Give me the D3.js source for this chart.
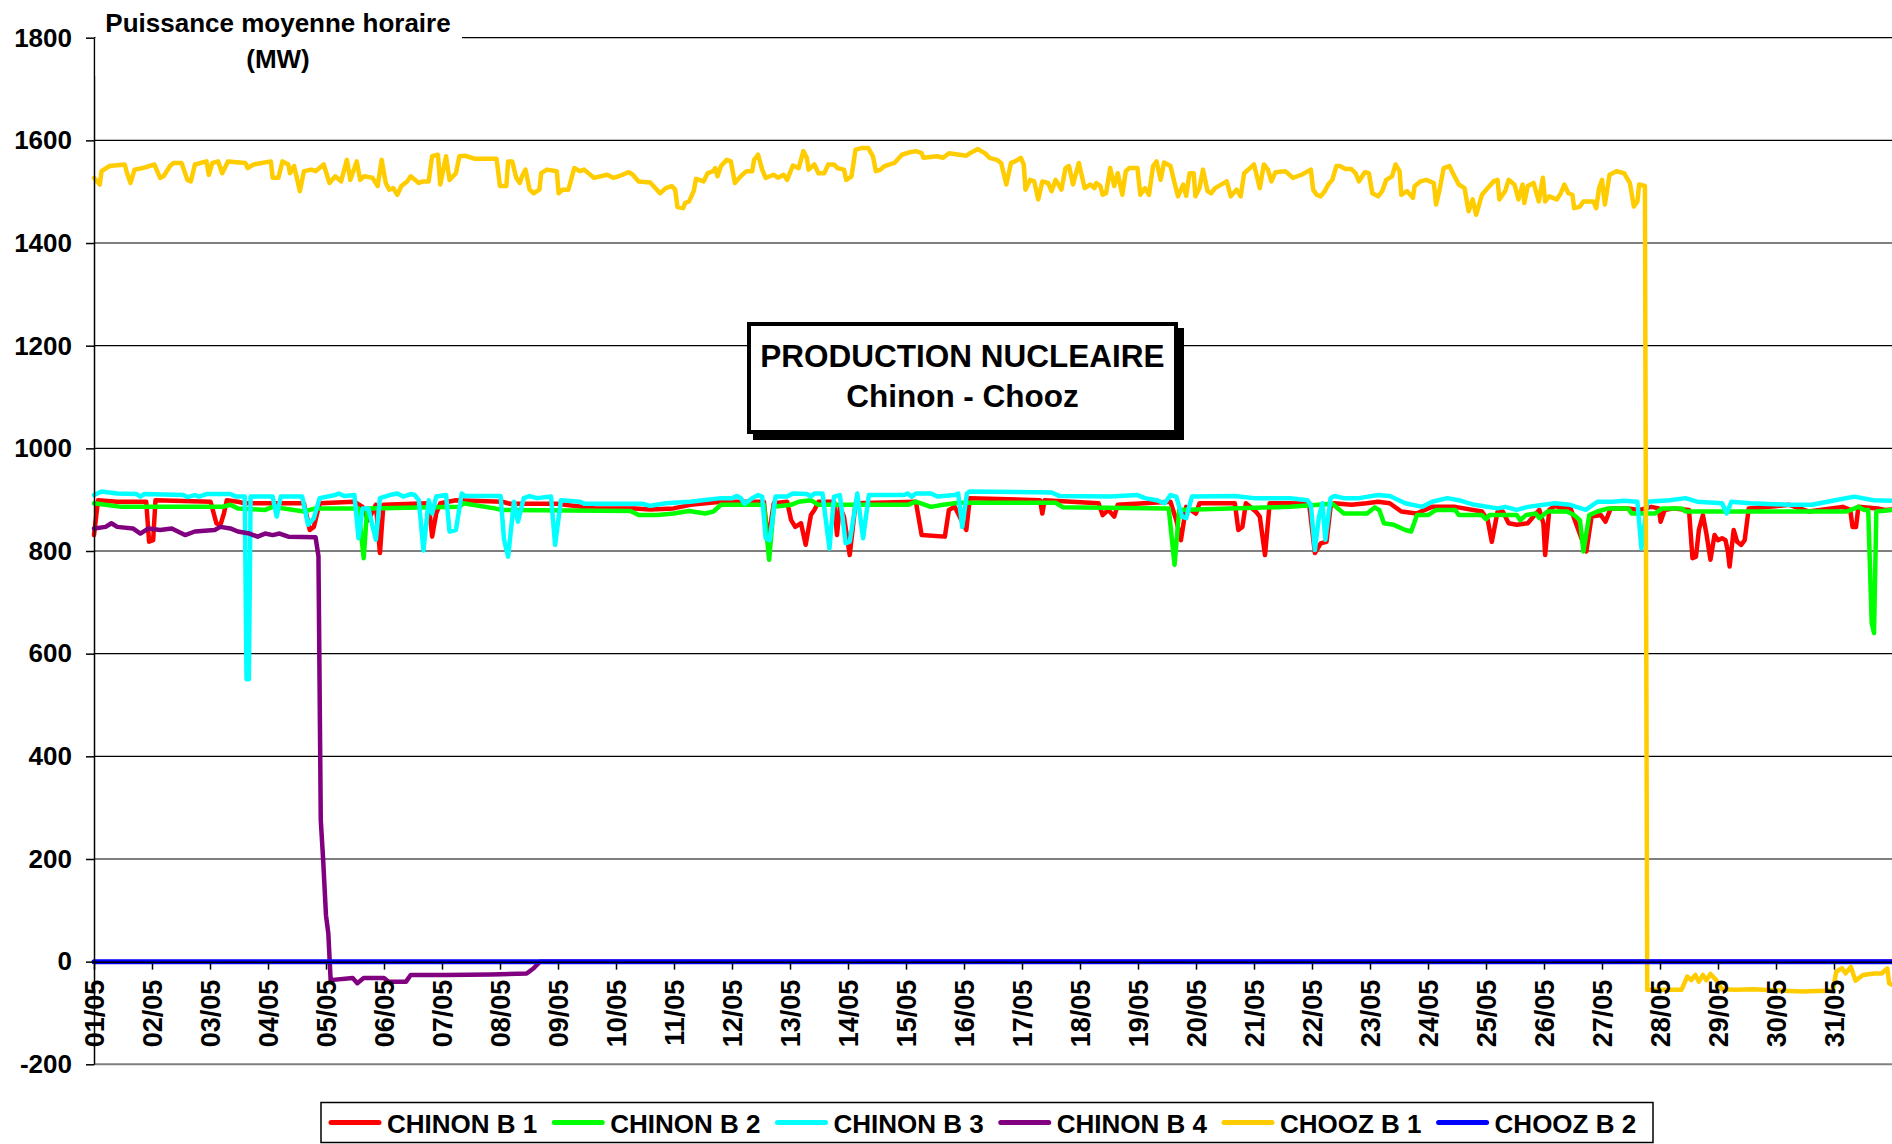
<!DOCTYPE html>
<html lang="fr">
<head>
<meta charset="utf-8">
<title>Production nucléaire Chinon - Chooz</title>
<script src="https://cdn.jsdelivr.net/npm/d3@7"></script>
<style>
  body { margin: 0; background: #fff; }
  svg { display: block; font-family: "Liberation Sans", Arial, sans-serif; font-weight: bold; }
</style>
</head>
<body>
<div id="chart"></div>
<script>
// Days of May 2005, one label per tick (tick i = start of day i+1)
const dayLabels = [
  "01/05", "02/05", "03/05", "04/05", "05/05", "06/05", "07/05", "08/05",
  "09/05", "10/05", "11/05", "12/05", "13/05", "14/05", "15/05", "16/05",
  "17/05", "18/05", "19/05", "20/05", "21/05", "22/05", "23/05", "24/05",
  "25/05", "26/05", "27/05", "28/05", "29/05", "30/05", "31/05",
];
const yTicks = [-200, 0, 200, 400, 600, 800, 1000, 1200, 1400, 1600, 1800];

// Hourly mean power as [day offset from 01/05 00:00, MW]
const chinonB1 = [
  [0,831],[0.07,899],[0.4,896],[0.9,896],[0.95,818],[1.02,821],[1.06,899],[2.01,896],[2.11,854],[2.18,851],
  [2.24,873],[2.29,899],[2.48,896],[2.6,893],[3.62,893],[3.72,841],[3.79,847],[3.89,893],[4.49,896],[4.63,886],
  [4.73,860],[4.86,890],[4.93,796],[4.99,890],[5.77,893],[5.83,828],[5.9,873],[5.97,893],[6.24,899],[7.04,896],
  [7.17,892],[7.98,892],[8.65,883],[9.32,883],[9.59,881],[9.99,883],[10.2,888],[10.28,890],[10.81,896],[11.55,896],
  [11.62,818],[11.72,893],[11.95,896],[12.02,860],[12.09,847],[12.19,854],[12.27,812],[12.36,870],[12.42,880],[12.49,896],
  [12.76,896],[12.81,831],[12.86,886],[12.93,867],[13.03,792],[13.13,893],[14.17,896],[14.27,831],[14.67,828],[14.74,880],
  [14.84,886],[15.04,841],[15.1,903],[16.31,899],[16.35,873],[16.39,899],[17.32,893],[17.39,870],[17.49,880],[17.59,867],
  [17.65,890],[18.56,896],[18.66,860],[18.74,821],[18.83,886],[19.0,873],[19.06,893],[19.67,893],[19.73,841],[19.8,847],
  [19.86,893],[20.03,877],[20.1,867],[20.19,792],[20.27,893],[20.62,893],[20.95,892],[21.05,796],[21.15,815],[21.25,818],
  [21.32,886],[21.38,893],[21.68,890],[21.94,893],[22.14,896],[22.34,893],[22.54,877],[22.8,873],[23.07,886],[23.47,886],
  [23.93,877],[24.03,860],[24.1,818],[24.2,877],[24.29,877],[24.39,854],[24.53,851],[24.72,854],[24.86,873],[24.92,880],
  [24.99,854],[25.02,792],[25.09,880],[25.19,888],[25.32,883],[25.45,886],[25.55,854],[25.73,799],[25.82,867],[25.98,870],
  [26.06,857],[26.15,883],[26.45,883],[26.65,880],[26.85,886],[26.98,883],[27.01,857],[27.08,880],[27.24,883],[27.5,880],
  [27.56,786],[27.62,789],[27.67,841],[27.74,870],[27.8,834],[27.87,783],[27.94,831],[28.0,821],[28.07,825],[28.13,821],
  [28.17,799],[28.2,770],[28.27,841],[28.33,818],[28.4,812],[28.46,821],[28.53,883],[28.89,886],[29.23,890],[29.56,877],
  [30.15,886],[30.28,880],[30.32,847],[30.38,847],[30.42,886],[30.75,883],[30.88,880],[31,881],
];
const chinonB2 = [
  [0,893],[0.47,886],[2.21,886],[2.35,890],[2.48,883],[2.95,880],[3.08,886],[3.62,877],[3.82,883],[4.56,883],
  [4.65,786],[4.71,883],[6.3,886],[6.37,893],[6.91,883],[7.04,880],[9.25,878],[9.39,870],[9.72,870],[9.99,873],
  [10.26,878],[10.54,873],[10.68,877],[10.81,890],[11.55,890],[11.64,783],[11.72,886],[12.02,890],[12.15,896],[12.36,899],
  [12.49,890],[14.03,890],[14.17,896],[14.43,886],[14.64,890],[14.9,894],[16.58,894],[16.71,885],[18.53,883],[18.63,773],
  [18.71,880],[20.62,886],[21.35,892],[21.55,873],[21.95,873],[22.08,885],[22.16,880],[22.24,854],[22.41,851],[22.61,841],
  [22.71,838],[22.81,870],[23.0,870],[23.14,880],[23.47,880],[23.53,870],[23.93,870],[24.0,862],[24.06,870],[24.53,870],
  [24.59,860],[24.69,870],[24.86,873],[24.92,864],[25.06,877],[25.39,877],[25.52,870],[25.62,860],[25.68,799],[25.78,870],
  [25.92,877],[26.11,883],[26.45,883],[26.51,873],[26.91,873],[27.04,883],[27.37,883],[27.44,877],[30.22,877],[30.42,886],
  [30.52,880],[30.59,880],[30.65,660],[30.69,640],[30.73,877],[31,880],
];
const chinonB3 = [
  [0,909],[0.13,916],[0.4,912],[0.73,911],[0.8,906],[0.87,911],[1.54,909],[1.61,905],[1.74,909],[1.81,906],
  [1.94,911],[2.35,911],[2.45,906],[2.6,906],[2.63,550],[2.67,550],[2.7,906],[3.08,906],[3.15,867],[3.22,906],
  [3.59,906],[3.69,851],[3.79,864],[3.89,903],[4.16,909],[4.22,912],[4.32,907],[4.49,909],[4.56,825],[4.63,883],
  [4.73,883],[4.86,822],[4.93,903],[5.1,909],[5.23,912],[5.33,906],[5.46,911],[5.53,909],[5.6,899],[5.68,801],
  [5.77,899],[5.83,873],[5.9,906],[6.07,909],[6.13,838],[6.24,841],[6.34,912],[6.4,907],[7.01,907],[7.07,822],
  [7.14,789],[7.24,896],[7.31,857],[7.41,903],[7.51,907],[7.64,903],[7.88,906],[7.95,812],[8.05,899],[8.38,896],
  [8.45,892],[9.45,892],[9.59,888],[9.86,893],[10.28,896],[10.81,903],[11.01,903],[11.08,907],[11.15,903],[11.22,892],
  [11.35,903],[11.45,909],[11.52,906],[11.58,825],[11.65,821],[11.75,906],[11.95,906],[12.05,912],[12.29,911],[12.36,906],
  [12.42,912],[12.56,912],[12.68,805],[12.76,906],[12.86,909],[12.96,815],[13.03,818],[13.16,912],[13.26,825],[13.36,909],
  [13.96,909],[14.03,912],[14.1,906],[14.17,912],[14.43,912],[14.54,906],[14.84,909],[14.9,912],[14.97,847],[15.05,912],
  [15.1,916],[16.51,914],[16.65,907],[17.52,906],[17.99,909],[18.12,903],[18.32,899],[18.46,893],[18.56,909],[18.66,906],
  [18.76,867],[18.83,864],[18.93,906],[19.67,907],[20.0,903],[20.62,903],[20.92,899],[20.98,890],[21.05,802],[21.12,867],
  [21.18,893],[21.23,822],[21.32,903],[21.38,907],[21.55,903],[21.81,903],[22.14,909],[22.34,907],[22.61,893],[22.9,886],
  [23.07,896],[23.33,903],[23.53,899],[23.8,890],[24.2,883],[24.33,886],[24.53,880],[24.72,886],[24.99,890],[25.19,893],
  [25.45,890],[25.72,880],[25.92,896],[26.18,896],[26.38,898],[26.61,896],[26.68,805],[26.78,896],[27.17,899],[27.44,903],
  [27.64,896],[28.07,893],[28.15,873],[28.23,896],[28.56,893],[29.23,890],[29.62,890],[30.02,899],[30.35,906],[30.68,899],
  [31,898],
];
const chinonB4 = [
  [0,844],[0.2,847],[0.3,854],[0.4,847],[0.67,844],[0.8,834],[0.94,844],[1.14,841],[1.34,844],[1.57,831],
  [1.74,838],[2.08,841],[2.18,847],[2.35,844],[2.48,838],[2.68,834],[2.82,828],[2.95,834],[3.08,831],[3.2,834],
  [3.35,828],[3.82,827],[3.87,790],[3.91,275],[3.95,200],[4.0,90],[4.04,55],[4.08,-36],[4.46,-32],[4.54,-42],
  [4.65,-32],[5.0,-32],[5.08,-39],[5.38,-39],[5.46,-26],[6.07,-26],[6.84,-25],[7.46,-23],[7.58,-13],[7.69,0],
  [31,0],
];
const choozB1 = [
  [0,1527],[0.1,1514],[0.13,1540],[0.27,1550],[0.53,1553],[0.57,1536],[0.63,1517],[0.7,1543],[0.84,1546],[1.04,1553],
  [1.14,1527],[1.2,1530],[1.31,1550],[1.37,1556],[1.51,1556],[1.61,1523],[1.67,1520],[1.74,1553],[1.94,1559],[1.98,1533],
  [2.04,1556],[2.14,1559],[2.21,1536],[2.31,1559],[2.61,1556],[2.65,1546],[2.75,1553],[3.05,1559],[3.08,1527],[3.18,1527],
  [3.25,1559],[3.35,1553],[3.38,1536],[3.45,1550],[3.55,1501],[3.62,1540],[3.75,1543],[3.82,1540],[3.96,1553],[4.06,1517],
  [4.16,1530],[4.26,1520],[4.36,1562],[4.42,1523],[4.53,1559],[4.59,1523],[4.66,1530],[4.8,1527],[4.89,1511],[4.96,1562],
  [5.03,1517],[5.09,1504],[5.16,1507],[5.23,1494],[5.3,1511],[5.4,1520],[5.46,1530],[5.6,1517],[5.67,1520],[5.77,1520],
  [5.83,1569],[5.93,1572],[5.97,1514],[6.07,1569],[6.13,1523],[6.24,1536],[6.3,1569],[6.4,1570],[6.57,1564],[6.94,1564],
  [7.0,1511],[7.11,1511],[7.14,1559],[7.21,1559],[7.28,1527],[7.34,1517],[7.38,1530],[7.44,1543],[7.51,1504],[7.58,1497],
  [7.68,1504],[7.71,1536],[7.81,1543],[7.98,1540],[8.01,1497],[8.08,1504],[8.18,1504],[8.28,1546],[8.38,1540],[8.45,1543],
  [8.62,1527],[8.85,1533],[8.95,1527],[9.05,1530],[9.22,1538],[9.29,1533],[9.39,1520],[9.59,1518],[9.76,1497],[9.86,1507],
  [9.96,1511],[10.02,1504],[10.06,1470],[10.16,1468],[10.19,1478],[10.26,1481],[10.34,1501],[10.38,1525],[10.51,1520],[10.58,1536],
  [10.68,1540],[10.71,1546],[10.75,1530],[10.81,1550],[10.91,1562],[10.98,1559],[11.05,1517],[11.15,1530],[11.25,1540],[11.35,1540],
  [11.38,1562],[11.45,1572],[11.52,1543],[11.58,1527],[11.72,1533],[11.79,1527],[11.89,1533],[11.95,1523],[12.05,1551],[12.15,1546],
  [12.23,1579],[12.29,1566],[12.32,1543],[12.42,1553],[12.49,1536],[12.59,1536],[12.66,1553],[12.76,1553],[12.82,1546],[12.93,1543],
  [12.97,1523],[13.06,1530],[13.13,1582],[13.23,1585],[13.35,1585],[13.43,1569],[13.48,1540],[13.56,1543],[13.63,1550],[13.8,1556],
  [13.93,1572],[14.07,1577],[14.17,1579],[14.27,1575],[14.3,1566],[14.53,1569],[14.64,1566],[14.74,1575],[15.04,1570],[15.1,1575],
  [15.24,1583],[15.37,1574],[15.44,1566],[15.57,1562],[15.64,1556],[15.73,1514],[15.81,1556],[15.88,1559],[15.98,1566],[16.03,1553],
  [16.06,1504],[16.14,1523],[16.21,1520],[16.28,1485],[16.35,1520],[16.45,1517],[16.51,1501],[16.58,1523],[16.68,1504],[16.75,1546],
  [16.81,1550],[16.88,1514],[16.98,1556],[17.08,1507],[17.18,1514],[17.25,1507],[17.28,1517],[17.35,1511],[17.39,1494],[17.45,1497],
  [17.52,1546],[17.59,1511],[17.65,1536],[17.73,1494],[17.79,1540],[17.85,1546],[17.99,1546],[18.04,1494],[18.12,1507],[18.19,1494],
  [18.26,1550],[18.32,1559],[18.39,1523],[18.45,1557],[18.56,1550],[18.63,1517],[18.69,1491],[18.78,1514],[18.83,1492],[18.89,1536],
  [18.96,1536],[18.99,1491],[19.06,1507],[19.12,1543],[19.2,1501],[19.26,1497],[19.33,1507],[19.53,1520],[19.6,1491],[19.7,1504],
  [19.77,1491],[19.83,1536],[19.93,1546],[20.0,1553],[20.1,1507],[20.17,1553],[20.24,1543],[20.3,1520],[20.37,1538],[20.54,1540],
  [20.67,1527],[20.82,1533],[20.98,1543],[21.02,1504],[21.08,1494],[21.15,1491],[21.22,1501],[21.28,1514],[21.35,1523],[21.42,1550],
  [21.48,1550],[21.58,1544],[21.68,1544],[21.75,1536],[21.81,1520],[21.91,1538],[21.98,1536],[22.04,1497],[22.14,1491],[22.21,1501],
  [22.28,1523],[22.38,1530],[22.44,1553],[22.51,1540],[22.54,1494],[22.64,1501],[22.74,1488],[22.77,1511],[22.87,1520],[22.97,1523],
  [23.1,1517],[23.14,1475],[23.2,1504],[23.27,1546],[23.37,1550],[23.43,1536],[23.53,1514],[23.63,1507],[23.7,1462],[23.77,1485],
  [23.83,1455],[23.93,1494],[24.03,1507],[24.13,1520],[24.2,1523],[24.23,1485],[24.33,1501],[24.39,1523],[24.49,1514],[24.56,1485],
  [24.63,1514],[24.66,1478],[24.72,1511],[24.82,1517],[24.91,1481],[24.98,1527],[25.02,1481],[25.09,1491],[25.22,1485],[25.29,1497],
  [25.35,1514],[25.42,1497],[25.49,1494],[25.52,1468],[25.62,1471],[25.68,1481],[25.85,1481],[25.9,1468],[25.95,1507],[26.0,1523],
  [26.05,1475],[26.13,1533],[26.25,1540],[26.38,1536],[26.48,1517],[26.55,1471],[26.61,1481],[26.64,1514],[26.74,1511],[26.78,-55],
  [27.37,-55],[27.47,-29],[27.54,-36],[27.61,-26],[27.67,-39],[27.74,-26],[27.8,-36],[27.87,-24],[27.97,-36],[28.07,-54],
  [28.3,-55],[28.62,-54],[29.0,-56],[29.46,-58],[29.98,-56],[30.04,-19],[30.14,-13],[30.2,-23],[30.29,-10],[30.37,-37],
  [30.5,-26],[30.69,-23],[30.82,-23],[30.92,-13],[30.95,-42],[31,-45],
];
const choozB2 = [[0,0],[31,0]];

const seriesNames = ["CHINON B 1", "CHINON B 2", "CHINON B 3", "CHINON B 4", "CHOOZ B 1", "CHOOZ B 2"];
const seriesColors = ["#ff0000", "#00ff00", "#00ffff", "#800080", "#ffcc00", "#0000ff"];
const seriesValues = [chinonB1, chinonB2, chinonB3, chinonB4, choozB1, choozB2];

const width = 1892;
const height = 1144;
const plot = { left: 94, right: 1892, top: 37.7, bottom: 1064.3 };

const x = d3.scaleLinear().domain([0, dayLabels.length]).range([plot.left, plot.right]);
const y = d3.scaleLinear().domain([-200, 1800]).range([plot.bottom, plot.top]);

const svg = d3.select("#chart")
  .append("svg")
  .attr("width", width)
  .attr("height", height)
  .attr("viewBox", [0, 0, width, height]);

function drawGrid() {
  svg.append("g")
    .selectAll("line")
    .data(yTicks)
    .join("line")
    .attr("x1", plot.left)
    .attr("x2", plot.right)
    .attr("y1", (d) => y(d))
    .attr("y2", (d) => y(d))
    .attr("stroke", (d) => (d === -200 ? "#808080" : "#000"))
    .attr("stroke-width", (d) => (d === -200 ? 2 : 1.2));
}

function drawAxes() {
  const yAxis = svg.append("g")
    .attr("transform", `translate(${plot.left},0)`)
    .call(
      d3.axisLeft(y)
        .tickValues(yTicks)
        .tickFormat((d) => String(d))
        .tickSize(8)
        .tickSizeOuter(0)
        .tickPadding(14),
    );

  yAxis.selectAll("path, line").attr("stroke", "#000").attr("stroke-width", 1.5);
  yAxis.selectAll("text")
    .attr("fill", "#000")
    .style("font-size", "26px")
    .style("font-family", "'Liberation Sans', Arial, sans-serif")
    .style("font-weight", "bold");

  const xAxis = svg.append("g")
    .attr("transform", `translate(0,${y(0)})`)
    .call(
      d3.axisBottom(x)
        .tickValues(dayLabels.map((d, i) => i))
        .tickFormat((i) => dayLabels[i])
        .tickSize(8)
        .tickSizeOuter(0),
    );

  xAxis.selectAll("path, line").attr("stroke", "#000").attr("stroke-width", 1.5);
  xAxis.selectAll("text")
    .attr("transform", "rotate(-90)")
    .attr("text-anchor", "end")
    .attr("x", -18)
    .attr("y", 0)
    .attr("dy", "0.36em")
    .attr("fill", "#000")
    .style("font-size", "27px")
    .style("font-family", "'Liberation Sans', Arial, sans-serif")
    .style("font-weight", "bold");
}

function drawSeries() {
  const line = d3.line()
    .x((d) => x(d[0]))
    .y((d) => y(d[1]));

  svg.append("g")
    .selectAll("path")
    .data(seriesValues)
    .join("path")
    .attr("fill", "none")
    .attr("stroke", (d, i) => seriesColors[i])
    .attr("stroke-width", (d, i) => (i === 5 ? 5 : 4.5))
    .attr("stroke-linejoin", "round")
    .attr("stroke-linecap", "round")
    .attr("d", line);
}

function drawAxisTitle() {
  // white patch hides the 1800 gridline behind the unit label
  svg.append("rect")
    .attr("x", plot.left + 1.5)
    .attr("y", 0)
    .attr("width", 462 - plot.left - 1.5)
    .attr("height", 76)
    .attr("fill", "#fff");

  const title = svg.append("text")
    .attr("text-anchor", "middle")
    .attr("fill", "#000")
    .style("font-size", "26px");
  title.append("tspan").attr("x", 278).attr("y", 32).text("Puissance moyenne horaire");
  title.append("tspan").attr("x", 278).attr("y", 68).text("(MW)");
}

function drawTitleBox() {
  const box = { x: 749, y: 324, w: 427, h: 108 };

  svg.append("rect")
    .attr("x", box.x + 6)
    .attr("y", box.y + 6)
    .attr("width", box.w)
    .attr("height", box.h)
    .attr("fill", "#000")
    .attr("stroke", "#000")
    .attr("stroke-width", 4);

  svg.append("rect")
    .attr("x", box.x)
    .attr("y", box.y)
    .attr("width", box.w)
    .attr("height", box.h)
    .attr("fill", "#fff")
    .attr("stroke", "#000")
    .attr("stroke-width", 4);

  const label = svg.append("text")
    .attr("text-anchor", "middle")
    .attr("fill", "#000")
    .style("font-size", "31.5px");
  label.append("tspan").attr("x", box.x + box.w / 2).attr("y", 367).text("PRODUCTION NUCLEAIRE");
  label.append("tspan").attr("x", box.x + box.w / 2).attr("y", 407).text("Chinon - Chooz");
}

function drawLegend() {
  const legend = svg.append("g");

  legend.append("rect")
    .attr("x", 321)
    .attr("y", 1102.5)
    .attr("width", 1332)
    .attr("height", 40)
    .attr("fill", "#fff")
    .attr("stroke", "#000")
    .attr("stroke-width", 1.5);

  let cursor = 331;
  seriesNames.forEach((name, i) => {
    legend.append("line")
      .attr("x1", cursor)
      .attr("x2", cursor + 48)
      .attr("y1", 1122.5)
      .attr("y2", 1122.5)
      .attr("stroke", seriesColors[i])
      .attr("stroke-width", 5)
      .attr("stroke-linecap", "round");

    const text = legend.append("text")
      .attr("x", cursor + 56)
      .attr("y", 1132.5)
      .attr("fill", "#000")
      .style("font-size", "26px")
      .text(name);

    cursor += 56 + text.node().getComputedTextLength() + 17;
  });
}

drawGrid();
drawSeries();
drawAxes();
drawAxisTitle();
drawTitleBox();
drawLegend();
</script>
</body>
</html>
